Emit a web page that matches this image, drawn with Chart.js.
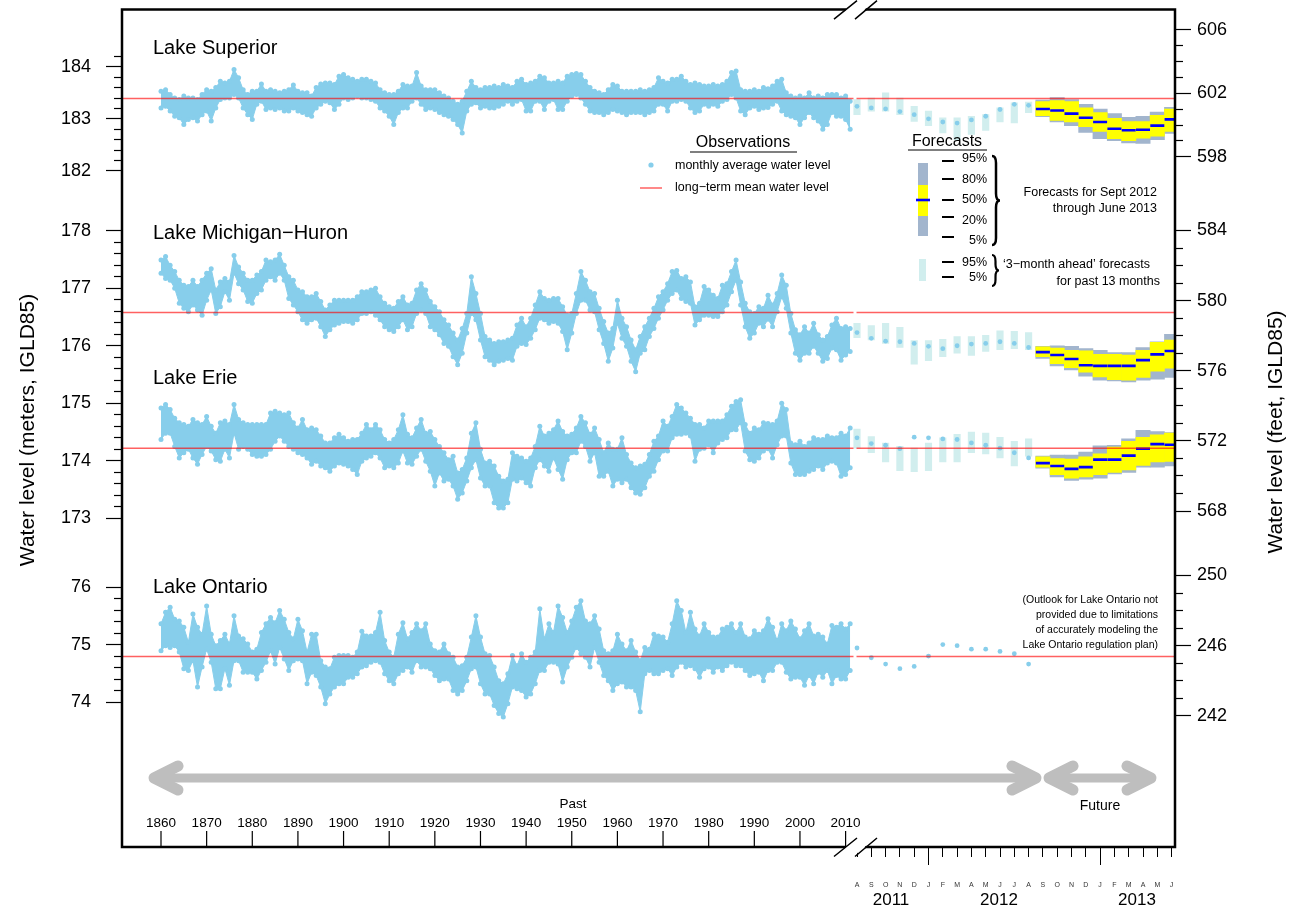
<!DOCTYPE html>
<html>
<head>
<meta charset="utf-8">
<title>Great Lakes water levels</title>
<script src="https://cdn.jsdelivr.net/npm/chart.js@4.4.1/dist/chart.umd.min.js"></script>
<style>
  html, body { margin: 0; padding: 0; background: #fff; }
  #wrap { width: 1300px; height: 912px; position: relative; }
</style>
</head>
<body>
<div id="wrap"><canvas id="chart"></canvas></div>
<script>
// ---------------------------------------------------------------
// Data (meters, IGLD85)
// ---------------------------------------------------------------
const YEARS = Array.from({ length: 152 }, (_, i) => 1860 + i); // 1860..2011

// yearly envelope (high / low of the monthly averages)
const SUP_HI = [
  183.53, 183.56, 183.47, 183.40, 183.37, 183.44, 183.40, 183.40, 183.37, 183.47,
  183.56, 183.53, 183.60, 183.72, 183.69, 183.72, 183.95, 183.79, 183.56, 183.47,
  183.53, 183.53, 183.67, 183.53, 183.56, 183.53, 183.50, 183.53, 183.56, 183.65,
  183.53, 183.50, 183.50, 183.44, 183.60, 183.67, 183.69, 183.69, 183.66, 183.82,
  183.85, 183.79, 183.76, 183.72, 183.76, 183.76, 183.72, 183.69, 183.56, 183.50,
  183.47, 183.47, 183.53, 183.66, 183.63, 183.63, 183.89, 183.63, 183.56, 183.56,
  183.56, 183.50, 183.44, 183.40, 183.34, 183.28, 183.34, 183.53, 183.72, 183.60,
  183.56, 183.60, 183.60, 183.63, 183.60, 183.66, 183.63, 183.60, 183.72, 183.76,
  183.66, 183.69, 183.72, 183.82, 183.79, 183.69, 183.69, 183.72, 183.69, 183.82,
  183.85, 183.87, 183.85, 183.72, 183.60, 183.53, 183.50, 183.47, 183.56, 183.66,
  183.63, 183.53, 183.53, 183.53, 183.53, 183.56, 183.53, 183.56, 183.60, 183.79,
  183.72, 183.69, 183.76, 183.76, 183.82, 183.72, 183.66, 183.69, 183.66, 183.63,
  183.63, 183.66, 183.63, 183.66, 183.72, 183.89, 183.92, 183.56, 183.53, 183.53,
  183.56, 183.53, 183.60, 183.58, 183.63, 183.72, 183.76, 183.50, 183.44, 183.40,
  183.44, 183.40, 183.50, 183.40, 183.44, 183.40, 183.47, 183.47, 183.47, 183.40,
  183.44, 183.34
];
const SUP_LO = [
  183.21, 183.24, 183.15, 183.05, 183.02, 182.89, 182.99, 183.02, 182.96, 183.08,
  183.15, 182.96, 183.21, 183.37, 183.40, 183.40, 183.47, 183.40, 183.21, 183.08,
  182.99, 183.28, 183.34, 183.18, 183.21, 183.18, 183.21, 183.15, 183.15, 183.21,
  183.15, 183.12, 183.08, 183.05, 183.21, 183.28, 183.34, 183.31, 183.18, 183.28,
  183.40, 183.37, 183.40, 183.44, 183.40, 183.40, 183.37, 183.34, 183.21, 183.15,
  183.05, 182.89, 183.12, 183.21, 183.21, 183.34, 183.40, 183.28, 183.18, 183.21,
  183.18, 183.12, 183.08, 183.05, 182.99, 182.89, 182.73, 183.15, 183.28, 183.31,
  183.21, 183.24, 183.21, 183.21, 183.24, 183.28, 183.34, 183.28, 183.34, 183.37,
  183.15, 183.15, 183.34, 183.34, 183.18, 183.34, 183.37, 183.18, 183.18, 183.34,
  183.44, 183.47, 183.40, 183.28, 183.15, 183.12, 183.12, 183.08, 183.12, 183.18,
  183.15, 183.12, 183.08, 183.12, 183.12, 183.12, 183.08, 183.12, 183.15, 183.28,
  183.28, 183.15, 183.34, 183.34, 183.37, 183.34, 183.21, 183.12, 183.15, 183.28,
  183.24, 183.28, 183.24, 183.34, 183.37, 183.47, 183.40, 183.15, 183.08, 183.21,
  183.24, 183.18, 183.21, 183.22, 183.28, 183.34, 183.15, 183.08, 183.05, 183.02,
  182.89, 183.02, 183.12, 183.02, 182.96, 182.80, 182.89, 183.12, 183.05, 183.05,
  182.99, 182.80
];
const MH_HI = [
  177.49, 177.55, 177.40, 177.29, 177.14, 177.05, 177.03, 177.14, 177.03, 177.14,
  177.26, 177.34, 176.97, 177.11, 177.17, 177.11, 177.57, 177.37, 177.26, 177.14,
  177.14, 177.23, 177.29, 177.49, 177.46, 177.49, 177.59, 177.40, 177.20, 177.14,
  176.97, 176.94, 176.85, 176.85, 176.91, 176.77, 176.62, 176.71, 176.79, 176.79,
  176.79, 176.79, 176.79, 176.85, 176.94, 176.94, 176.97, 177.00, 176.85, 176.74,
  176.68, 176.65, 176.77, 176.85, 176.71, 176.74, 176.97, 177.08, 176.97, 176.77,
  176.68, 176.59, 176.45, 176.36, 176.22, 176.10, 176.30, 176.56, 177.20, 176.91,
  176.56, 176.16, 176.10, 176.04, 176.07, 176.07, 176.10, 176.13, 176.36, 176.48,
  176.33, 176.48, 176.71, 176.94, 176.82, 176.79, 176.82, 176.82, 176.68, 176.53,
  176.56, 176.91, 177.29, 177.14, 176.94, 176.91, 176.65, 176.42, 176.22, 176.30,
  176.79, 176.48, 176.33, 176.10, 175.93, 176.16, 176.33, 176.48, 176.65, 176.85,
  176.94, 177.08, 177.29, 177.31, 177.17, 177.20, 177.11, 176.68, 176.74, 177.03,
  176.97, 176.88, 176.82, 177.05, 177.08, 177.29, 177.49, 177.11, 176.74, 176.59,
  176.56, 176.68, 176.65, 176.88, 176.71, 176.91, 177.23, 177.05, 176.56, 176.28,
  176.19, 176.33, 176.22, 176.39, 176.19, 176.10, 176.16, 176.36, 176.48, 176.30,
  176.33, 176.30
];
const MH_LO = [
  177.26, 177.17, 177.14, 177.00, 176.74, 176.65, 176.59, 176.71, 176.62, 176.53,
  176.79, 176.97, 176.56, 176.68, 176.94, 176.79, 177.26, 177.08, 176.97, 176.77,
  176.74, 176.91, 176.97, 177.14, 177.20, 177.14, 177.26, 177.14, 176.82, 176.71,
  176.59, 176.45, 176.39, 176.45, 176.48, 176.33, 176.16, 176.28, 176.36, 176.39,
  176.42, 176.42, 176.39, 176.45, 176.56, 176.56, 176.59, 176.53, 176.45, 176.33,
  176.28, 176.25, 176.33, 176.45, 176.28, 176.33, 176.56, 176.62, 176.56, 176.33,
  176.28, 176.19, 176.04, 175.99, 175.81, 175.67, 175.87, 176.22, 176.56, 176.45,
  176.10, 175.81, 175.75, 175.67, 175.73, 175.75, 175.78, 175.75, 175.99, 176.04,
  176.02, 176.13, 176.28, 176.48, 176.45, 176.39, 176.42, 176.39, 176.25, 175.93,
  176.22, 176.56, 176.79, 176.79, 176.62, 176.59, 176.28, 176.04, 175.73, 175.96,
  176.39, 176.13, 175.99, 175.73, 175.55, 175.87, 175.93, 176.16, 176.30, 176.48,
  176.62, 176.79, 176.91, 176.97, 176.82, 176.77, 176.74, 176.36, 176.45, 176.53,
  176.53, 176.51, 176.51, 176.59, 176.71, 176.94, 177.14, 176.71, 176.33, 176.13,
  176.22, 176.39, 176.33, 176.46, 176.33, 176.59, 176.85, 176.65, 176.22, 175.87,
  175.75, 175.87, 175.87, 175.99, 175.87, 175.73, 175.78, 175.96, 175.93, 175.75,
  175.84, 175.90
];
const ERIE_HI = [
  174.92, 174.98, 174.89, 174.74, 174.66, 174.63, 174.60, 174.72, 174.66, 174.63,
  174.77, 174.60, 174.48, 174.66, 174.69, 174.63, 174.98, 174.72, 174.66, 174.63,
  174.63, 174.63, 174.63, 174.63, 174.83, 174.86, 174.83, 174.80, 174.83, 174.66,
  174.57, 174.72, 174.54, 174.57, 174.54, 174.43, 174.31, 174.31, 174.40, 174.46,
  174.40, 174.34, 174.37, 174.37, 174.48, 174.63, 174.54, 174.63, 174.54, 174.37,
  174.31, 174.37, 174.54, 174.80, 174.46, 174.40, 174.57, 174.72, 174.48, 174.51,
  174.37, 174.25, 174.14, 174.02, 174.08, 173.79, 173.85, 174.05, 174.48, 174.66,
  174.20, 173.96, 173.99, 173.91, 173.73, 173.65, 173.68, 174.14, 174.08, 174.05,
  173.99, 174.05, 174.25, 174.60, 174.43, 174.48, 174.54, 174.69, 174.51, 174.43,
  174.46, 174.57, 174.77, 174.66, 174.46, 174.57, 174.37, 174.14, 174.31, 174.20,
  174.20, 174.40, 174.11, 173.96, 173.88, 173.91, 173.94, 174.11, 174.34, 174.43,
  174.69, 174.60, 174.77, 174.98, 174.92, 174.83, 174.74, 174.63, 174.63, 174.57,
  174.69, 174.69, 174.69, 174.69, 174.80, 174.95, 175.03, 175.06, 174.63, 174.48,
  174.57, 174.54, 174.66, 174.65, 174.63, 174.69, 175.00, 174.89, 174.31, 174.28,
  174.34, 174.25, 174.31, 174.40, 174.37, 174.37, 174.43, 174.40, 174.40, 174.48,
  174.43, 174.57
];
const ERIE_LO = [
  174.37, 174.48, 174.48, 174.25, 174.05, 174.14, 174.20, 174.05, 173.94, 174.11,
  174.25, 174.17, 174.02, 173.99, 174.20, 174.05, 174.48, 174.20, 174.25, 174.20,
  174.11, 174.08, 174.08, 174.11, 174.20, 174.34, 174.43, 174.34, 174.25, 174.20,
  174.14, 174.11, 174.05, 173.94, 173.99, 173.91, 173.88, 173.82, 173.91, 173.96,
  173.94, 173.91, 173.85, 173.76, 173.99, 174.05, 174.08, 174.14, 174.05, 173.88,
  173.91, 173.88, 173.96, 174.17, 173.96, 173.94, 174.08, 174.20, 173.99, 173.82,
  173.56, 173.79, 173.65, 173.68, 173.56, 173.33, 173.44, 173.65, 173.88, 174.02,
  173.70, 173.56, 173.56, 173.27, 173.18, 173.18, 173.27, 173.68, 173.65, 173.70,
  173.62, 173.56, 173.88, 174.02, 173.91, 173.82, 174.05, 173.85, 173.68, 174.02,
  174.14, 174.14, 174.34, 174.25, 173.99, 174.14, 173.73, 173.73, 173.82, 173.56,
  173.68, 173.62, 173.68, 173.53, 173.44, 173.42, 173.53, 173.73, 173.82, 174.02,
  174.17, 174.17, 174.40, 174.46, 174.46, 174.48, 174.43, 173.99, 174.20, 174.22,
  174.28, 174.14, 174.31, 174.37, 174.40, 174.54, 174.54, 174.66, 174.17, 174.02,
  173.99, 174.05, 174.17, 174.21, 174.05, 174.28, 174.43, 174.43, 173.96, 173.76,
  173.76, 173.76, 173.82, 173.85, 173.91, 173.85, 173.96, 173.99, 173.96, 173.73,
  173.76, 173.88
];
const ONT_HI = [
  75.36, 75.56, 75.65, 75.44, 75.41, 75.30, 75.04, 75.53, 75.30, 75.18,
  75.67, 75.18, 74.98, 75.07, 75.18, 75.01, 75.50, 75.15, 75.10, 75.01,
  74.87, 74.92, 75.21, 75.36, 75.47, 75.38, 75.59, 75.44, 75.21, 75.10,
  75.44, 75.24, 74.87, 75.18, 75.18, 74.72, 74.61, 74.58, 74.78, 74.81,
  74.81, 74.81, 74.78, 74.87, 75.23, 75.15, 75.15, 75.21, 75.56, 75.07,
  74.87, 74.78, 75.18, 75.38, 75.10, 75.21, 75.36, 75.24, 75.36, 75.01,
  74.89, 74.87, 75.01, 74.84, 74.78, 74.61, 74.63, 74.78, 75.13, 75.50,
  75.13, 74.84, 74.81, 74.61, 74.37, 74.32, 74.49, 74.81, 74.63, 74.84,
  74.69, 74.78, 74.87, 75.62, 75.10, 75.36, 75.21, 75.67, 75.47, 75.21,
  75.41, 75.65, 75.76, 75.41, 75.36, 75.50, 75.27, 74.89, 74.84, 74.89,
  75.18, 75.01, 74.89, 75.07, 74.87, 74.72, 74.95, 74.92, 75.18, 75.15,
  75.13, 75.04, 75.36, 75.76, 75.59, 75.21, 75.56, 75.27, 75.15, 75.36,
  75.21, 75.13, 75.13, 75.27, 75.30, 75.36, 75.21, 75.36, 75.13, 75.10,
  75.24, 75.18, 75.24, 75.45, 75.30, 75.07, 75.36, 75.24, 75.41, 75.27,
  75.10, 75.24, 75.36, 75.15, 75.18, 75.13, 75.01, 75.33, 75.30, 75.36,
  75.27, 75.36
];
const ONT_LO = [
  74.89, 74.98, 74.95, 74.98, 74.87, 74.58, 74.55, 74.72, 74.26, 74.61,
  74.92, 74.69, 74.23, 74.23, 74.58, 74.29, 74.72, 74.72, 74.52, 74.52,
  74.52, 74.40, 74.55, 74.69, 74.89, 74.66, 74.95, 74.75, 74.55, 74.72,
  74.75, 74.72, 74.32, 74.52, 74.46, 74.26, 73.97, 74.14, 74.26, 74.32,
  74.32, 74.43, 74.43, 74.49, 74.61, 74.63, 74.69, 74.72, 74.69, 74.49,
  74.37, 74.32, 74.49, 74.55, 74.61, 74.52, 74.72, 74.61, 74.61, 74.58,
  74.46, 74.37, 74.40, 74.40, 74.20, 74.14, 74.20, 74.37, 74.58, 74.61,
  74.32, 74.14, 74.14, 73.94, 73.80, 73.74, 73.97, 74.26, 74.23, 74.20,
  74.09, 74.14, 74.32, 74.55, 74.55, 74.69, 74.69, 74.66, 74.35, 74.61,
  74.78, 74.95, 74.84, 74.78, 74.61, 74.95, 74.69, 74.46, 74.37, 74.20,
  74.32, 74.35, 74.26, 74.26, 74.20, 73.83, 74.49, 74.55, 74.49, 74.49,
  74.55, 74.58, 74.46, 74.61, 74.69, 74.61, 74.63, 74.58, 74.43, 74.58,
  74.61, 74.52, 74.61, 74.55, 74.63, 74.69, 74.63, 74.63, 74.55, 74.46,
  74.49, 74.52, 74.37, 74.55, 74.55, 74.69, 74.69, 74.52, 74.40, 74.43,
  74.43, 74.29, 74.46, 74.32, 74.52, 74.43, 74.55, 74.32, 74.46, 74.40,
  74.40, 74.55
];

// long-term means
const SUP_MEAN = 183.39;
const MH_MEAN = 176.58;
const ERIE_MEAN = 174.22;
const ONT_MEAN = 74.79;

// monthly axis: Aug 2011 .. Jun 2013
const MONTH_LETTERS = ['A', 'S', 'O', 'N', 'D', 'J', 'F', 'M', 'A', 'M', 'J', 'J', 'A',
                       'S', 'O', 'N', 'D', 'J', 'F', 'M', 'A', 'M', 'J'];
const JAN_MONTHS = [5, 17];
const MONTH_YEAR_LABELS = ['2011', '2012', '2013'];

// observed monthly levels Aug 2011 .. Aug 2012
const SUP_MONTHLY = [183.24, 183.21, 183.19, 183.14, 183.08, 183.00, 182.94, 182.92, 182.98, 183.05, 183.18, 183.28, 183.26];
const MH_MONTHLY = [176.23, 176.13, 176.08, 176.07, 176.04, 175.99, 175.95, 176.00, 176.03, 176.04, 176.07, 176.04, 175.97];
const ERIE_MONTHLY = [174.40, 174.30, 174.27, 174.21, 174.41, 174.40, 174.38, 174.37, 174.31, 174.27, 174.22, 174.14, 174.05];
const ONT_MONTHLY = [74.94, 74.77, 74.66, 74.58, 74.62, 74.80, 75.00, 74.98, 74.92, 74.92, 74.88, 74.84, 74.66];

// '3-month ahead' forecast ranges (5% / 95%) for the same 13 months
const SUP_AHEAD_LO = [183.08, 183.15, 183.15, 183.08, 182.95, 182.87, 182.73, 182.60, 182.70, 182.78, 182.94, 182.92, 183.12];
const SUP_AHEAD_HI = [183.37, 183.40, 183.50, 183.40, 183.24, 183.15, 183.02, 183.02, 183.05, 183.08, 183.21, 183.31, 183.32];
const MH_AHEAD_LO = [176.14, 176.10, 176.04, 175.97, 175.68, 175.74, 175.81, 175.87, 175.83, 175.90, 175.93, 175.95, 175.93];
const MH_AHEAD_HI = [176.39, 176.35, 176.39, 176.32, 176.09, 176.09, 176.11, 176.16, 176.16, 176.18, 176.26, 176.25, 176.23];
const ERIE_AHEAD_LO = [174.22, 174.14, 173.98, 173.83, 173.81, 173.83, 173.98, 173.98, 174.14, 174.12, 174.05, 173.91, 174.08];
const ERIE_AHEAD_HI = [174.55, 174.42, 174.31, 174.25, 174.22, 174.31, 174.40, 174.46, 174.50, 174.48, 174.41, 174.34, 174.38];

// forecasts Sep 2012 .. Jun 2013 (percentiles)
const SUP_F05 = [183.04, 182.94, 182.87, 182.74, 182.62, 182.58, 182.54, 182.53, 182.60, 182.72];
const SUP_F20 = [183.06, 182.97, 182.94, 182.85, 182.76, 182.62, 182.58, 182.63, 182.67, 182.76];
const SUP_F50 = [183.19, 183.16, 183.10, 183.02, 182.94, 182.81, 182.78, 182.79, 182.87, 182.99];
const SUP_F80 = [183.33, 183.35, 183.33, 183.21, 183.12, 183.01, 182.95, 182.95, 183.07, 183.19];
const SUP_F95 = [183.36, 183.41, 183.37, 183.28, 183.19, 183.10, 183.03, 183.05, 183.13, 183.22];
const MH_F05 = [175.78, 175.65, 175.58, 175.47, 175.40, 175.39, 175.37, 175.40, 175.42, 175.45];
const MH_F20 = [175.81, 175.69, 175.62, 175.54, 175.46, 175.41, 175.40, 175.45, 175.56, 175.61];
const MH_F50 = [175.89, 175.84, 175.77, 175.66, 175.65, 175.65, 175.65, 175.75, 175.85, 175.91];
const MH_F80 = [175.98, 175.96, 175.92, 175.91, 175.85, 175.85, 175.84, 175.92, 176.06, 176.10];
const MH_F95 = [175.99, 176.00, 175.99, 175.95, 175.92, 175.88, 175.88, 175.97, 176.07, 176.20];
const ERIE_F05 = [173.87, 173.72, 173.66, 173.68, 173.70, 173.77, 173.80, 173.89, 173.89, 173.91];
const ERIE_F20 = [173.89, 173.76, 173.70, 173.72, 173.76, 173.80, 173.84, 173.92, 173.98, 173.99];
const ERIE_F50 = [173.96, 173.91, 173.86, 173.89, 174.02, 174.02, 174.09, 174.21, 174.29, 174.28];
const ERIE_F80 = [174.07, 174.04, 174.03, 174.07, 174.12, 174.24, 174.34, 174.41, 174.45, 174.48];
const ERIE_F95 = [174.08, 174.10, 174.10, 174.15, 174.26, 174.27, 174.38, 174.53, 174.51, 174.49];

// axis tick labels
const YEAR_TICKS = [1860, 1870, 1880, 1890, 1900, 1910, 1920, 1930, 1940, 1950, 1960, 1970, 1980, 1990, 2000, 2010];
const SUP_M_TICKS = [182, 183, 184];
const MHE_M_TICKS = [173, 174, 175, 176, 177, 178];
const ONT_M_TICKS = [74, 75, 76];
const SUP_FT_TICKS = [598, 602, 606];
const MHE_FT_TICKS = [568, 572, 576, 580, 584];
const ONT_FT_TICKS = [242, 246, 250];

// ---------------------------------------------------------------
// Layout (pixels) and the broken-axis mapping
// ---------------------------------------------------------------
const FONT = '"Liberation Sans", Arial, Helvetica, sans-serif';
const OBS = '#87ceeb';
const AHEAD = '#d1eeee';
const OUTER = '#a2b5cd';
const INNER = '#ffff00';
const MEDIAN = '#0000ff';
const MEANLINE = 'rgba(255, 0, 0, 0.62)';
const ARROW = '#bebebe';

const PLOT = { left: 122, right: 1175, top: 7, bottom: 847 };
const YEAR0_PX = 161, PX_PER_YEAR = 4.564;
const MONTH0_PX = 857, PX_PER_MONTH = 14.3;
const pxToX = (px) => 1860 + (px - YEAR0_PX) / PX_PER_YEAR;
const monthX = (i) => pxToX(MONTH0_PX + i * PX_PER_MONTH);
const X_MIN = pxToX(PLOT.left), X_MAX = pxToX(PLOT.right);

function yRange(anchorValue, anchorPx, pxPerUnit) {
  return {
    min: anchorValue - (PLOT.bottom - anchorPx) / pxPerUnit,
    max: anchorValue + (anchorPx - PLOT.top) / pxPerUnit,
  };
}
const FT = 3.28084;
const SUP_R = yRange(183.49, 91, 52.25);
const MHE_R = yRange(175.565, 369.3, 57.7);
const ONT_R = yRange(74.981, 645, 57.7);
const toFt = (r) => ({ min: r.min * FT, max: r.max * FT });

function minorTicks(from, to, step, majors) {
  const out = [];
  const n = Math.round((to - from) / step);
  for (let k = 0; k <= n; k++) {
    const v = +(from + k * step).toFixed(3);
    if (!majors.some((m) => Math.abs(m - v) < 1e-6)) out.push(v);
  }
  return out;
}

// axes take no layout room; the page margins hold them
function yAxis(position, r, values, len, labelled) {
  return {
    type: 'linear', position, min: r.min, max: r.max, bounds: 'data',
    afterBuildTicks: (s) => { s.ticks = values.map((v) => ({ value: v })); },
    afterFit: (s) => { s.width = 0; s.paddingTop = 0; s.paddingBottom = 0; s.paddingLeft = 0; s.paddingRight = 0; },
    border: { display: false },
    grid: { drawOnChartArea: false, drawTicks: true, tickLength: len, tickColor: '#000', tickWidth: 1.2 },
    ticks: {
      display: labelled, autoSkip: false, color: '#000',
      padding: position === 'left' ? 15 : 6,
      font: { family: FONT, size: 18 },
      callback: (v) => String(v),
    },
  };
}

function xAxis(values, labels, len, pad, size) {
  return {
    type: 'linear', position: 'bottom', min: X_MIN, max: X_MAX, bounds: 'data', offset: false,
    afterBuildTicks: (s) => { s.ticks = values.map((v) => ({ value: v })); },
    afterFit: (s) => { s.height = 0; s.paddingLeft = 0; s.paddingRight = 0; s.paddingTop = 0; s.paddingBottom = 0; },
    border: { display: false },
    grid: { drawOnChartArea: false, drawTicks: len > 0, tickLength: len, tickColor: '#000', tickWidth: 1 },
    ticks: {
      display: !!labels, autoSkip: false, maxRotation: 0, minRotation: 0, padding: pad,
      color: size < 10 ? '#333' : '#000', font: { family: FONT, size },
      callback: (v, i) => (labels ? labels[i] : ''),
    },
  };
}

// once laid out, widen the axis boxes into the margins so labels are not clipped
const axisBoxes = {
  id: 'axisBoxes',
  afterLayout(chart) {
    for (const s of Object.values(chart.scales)) {
      if (!s.options.display) continue;
      const pos = s.options.position;
      if (pos === 'left') { s.left = 0; s.width = s.right; }
      else if (pos === 'right') { s.right = chart.width; s.width = s.right - s.left; }
      else if (pos === 'bottom') { s.bottom = chart.height; s.height = s.bottom - s.top; }
    }
  },
};

// ---------------------------------------------------------------
// Datasets
// ---------------------------------------------------------------
const LAKES = [
  { axis: 'ySup', hi: SUP_HI, lo: SUP_LO, mean: SUP_MEAN, monthly: SUP_MONTHLY,
    ahead: [SUP_AHEAD_LO, SUP_AHEAD_HI], fc: [SUP_F05, SUP_F20, SUP_F50, SUP_F80, SUP_F95] },
  { axis: 'yMhe', hi: MH_HI, lo: MH_LO, mean: MH_MEAN, monthly: MH_MONTHLY,
    ahead: [MH_AHEAD_LO, MH_AHEAD_HI], fc: [MH_F05, MH_F20, MH_F50, MH_F80, MH_F95] },
  { axis: 'yMhe', hi: ERIE_HI, lo: ERIE_LO, mean: ERIE_MEAN, monthly: ERIE_MONTHLY,
    ahead: [ERIE_AHEAD_LO, ERIE_AHEAD_HI], fc: [ERIE_F05, ERIE_F20, ERIE_F50, ERIE_F80, ERIE_F95] },
  { axis: 'yOnt', hi: ONT_HI, lo: ONT_LO, mean: ONT_MEAN, monthly: ONT_MONTHLY },
];

const FC0 = 13; // first forecast month (Sep 2012)
const datasets = [];
for (const lake of LAKES) {
  const base = { xAxisID: 'x', yAxisID: lake.axis };
  // yearly envelope: upper edge filled down to the lower edge
  datasets.push({ ...base, type: 'line', order: 9, fill: '+1', backgroundColor: OBS,
    borderColor: OBS, borderWidth: 1, tension: 0,
    pointRadius: 2.5, pointBorderWidth: 0, pointBackgroundColor: OBS,
    data: YEARS.map((yr, i) => ({ x: yr, y: lake.hi[i] })) });
  datasets.push({ ...base, type: 'line', order: 8, fill: false,
    borderColor: OBS, borderWidth: 1, tension: 0,
    pointRadius: 2.5, pointBorderWidth: 0, pointBackgroundColor: OBS,
    data: YEARS.map((yr, i) => ({ x: yr, y: lake.lo[i] })) });
  if (lake.ahead) {
    datasets.push({ ...base, type: 'bar', order: 7, grouped: false, barThickness: 6.5,
      backgroundColor: AHEAD, borderWidth: 0,
      data: lake.ahead[0].map((lo, i) => ({ x: monthX(i), y: [lo, lake.ahead[1][i]] })) });
  }
  datasets.push({ ...base, type: 'scatter', order: 6, pointRadius: 2.4, pointBorderWidth: 0,
    pointBackgroundColor: OBS,
    data: lake.monthly.map((v, i) => ({ x: monthX(i), y: v })) });
  if (lake.fc) {
    const [p5, p20, p50, p80, p95] = lake.fc;
    datasets.push({ ...base, type: 'bar', order: 5, grouped: false, barThickness: 14.3,
      backgroundColor: OUTER, borderWidth: 0,
      data: p5.map((v, i) => ({ x: monthX(FC0 + i), y: [v, p95[i]] })) });
    datasets.push({ ...base, type: 'bar', order: 4, grouped: false, barThickness: 14.3,
      backgroundColor: INNER, borderWidth: 0,
      data: p20.map((v, i) => ({ x: monthX(FC0 + i), y: [v, p80[i]] })) });
    datasets.push({ ...base, type: 'scatter', order: 3, pointStyle: 'line', pointRadius: 7,
      pointBorderColor: MEDIAN, pointBorderWidth: 2.6,
      data: p50.map((v, i) => ({ x: monthX(FC0 + i), y: v })) });
  }
  datasets.push({ ...base, type: 'line', order: 1, borderColor: MEANLINE, borderWidth: 1.5,
    pointRadius: 0, spanGaps: false, tension: 0, fill: false,
    data: [
      { x: X_MIN, y: lake.mean }, { x: pxToX(853.5), y: lake.mean },
      { x: pxToX(855), y: null },
      { x: pxToX(856.5), y: lake.mean }, { x: X_MAX, y: lake.mean },
    ] });
}

// ---------------------------------------------------------------
// Decorations: frame, breaks, in-plot year axis, titles, legends
// ---------------------------------------------------------------
function label(ctx, str, x, y, size, align) {
  ctx.font = `${size}px ${FONT}`;
  ctx.textAlign = align || 'left';
  ctx.textBaseline = 'middle';
  ctx.fillStyle = '#000';
  ctx.fillText(str, x, y);
}

function brace(ctx, x, top, bottom, w) {
  const mid = (top + bottom) / 2;
  const r = Math.min(7, (bottom - top) / 5);
  const cx = x + w / 2;
  ctx.beginPath();
  ctx.moveTo(x, top);
  ctx.quadraticCurveTo(cx, top, cx, top + r);
  ctx.lineTo(cx, mid - r);
  ctx.quadraticCurveTo(cx, mid, x + w, mid);
  ctx.quadraticCurveTo(cx, mid, cx, mid + r);
  ctx.lineTo(cx, bottom - r);
  ctx.quadraticCurveTo(cx, bottom, x, bottom);
  ctx.stroke();
}

function arrow(ctx, x1, x2, y) {
  ctx.strokeStyle = ARROW;
  ctx.lineCap = 'round';
  ctx.lineJoin = 'round';
  ctx.lineWidth = 9;
  ctx.beginPath();
  ctx.moveTo(x1 + 6, y); ctx.lineTo(x2 - 6, y);
  ctx.stroke();
  ctx.lineWidth = 11;
  ctx.beginPath();
  ctx.moveTo(x1 + 30, y - 12); ctx.lineTo(x1 + 6, y); ctx.lineTo(x1 + 30, y + 12);
  ctx.moveTo(x2 - 30, y - 12); ctx.lineTo(x2 - 6, y); ctx.lineTo(x2 - 30, y + 12);
  ctx.stroke();
}

function breakMark(ctx, y) {
  ctx.fillStyle = '#fff';
  ctx.beginPath();
  ctx.moveTo(836, y + 9); ctx.lineTo(857, y - 9); ctx.lineTo(875, y - 9); ctx.lineTo(854, y + 9);
  ctx.closePath();
  ctx.fill();
  ctx.strokeStyle = '#000';
  ctx.lineWidth = 1.5;
  ctx.beginPath();
  ctx.moveTo(834, y + 9.5); ctx.lineTo(857, y - 9);
  ctx.moveTo(855, y + 9.5); ctx.lineTo(877, y - 9);
  ctx.stroke();
}

const decorations = {
  id: 'decorations',
  afterDraw(chart) {
    const ctx = chart.ctx;
    const { left, right, top, bottom } = chart.chartArea;
    const xs = chart.scales.x;
    ctx.save();

    // in-plot year ticks and labels
    ctx.strokeStyle = '#000';
    ctx.lineWidth = 1.2;
    ctx.beginPath();
    for (const yr of YEAR_TICKS) {
      const px = xs.getPixelForValue(yr);
      ctx.moveTo(px, bottom - 16); ctx.lineTo(px, bottom);
    }
    ctx.stroke();
    for (const yr of YEAR_TICKS) label(ctx, String(yr), xs.getPixelForValue(yr), bottom - 24, 13.5, 'center');

    // frame
    ctx.strokeStyle = '#000';
    ctx.lineWidth = 2.5;
    ctx.lineCap = 'square';
    ctx.beginPath();
    ctx.moveTo(left, top); ctx.lineTo(left, bottom);
    ctx.moveTo(right, top); ctx.lineTo(right, bottom);
    ctx.moveTo(left, top); ctx.lineTo(845, top);
    ctx.moveTo(866, top); ctx.lineTo(right, top);
    ctx.moveTo(left, bottom); ctx.lineTo(845, bottom);
    ctx.moveTo(866, bottom); ctx.lineTo(right, bottom);
    ctx.stroke();
    ctx.lineCap = 'butt';
    breakMark(ctx, top);
    breakMark(ctx, bottom);

    // axis titles
    ctx.save();
    ctx.translate(28, 430); ctx.rotate(-Math.PI / 2);
    label(ctx, 'Water level (meters, IGLD85)', 0, 0, 21, 'center');
    ctx.restore();
    ctx.save();
    ctx.translate(1276, 432); ctx.rotate(-Math.PI / 2);
    label(ctx, 'Water level (feet, IGLD85)', 0, 0, 21, 'center');
    ctx.restore();

    // lake names
    label(ctx, 'Lake Superior', 153, 48, 20);
    label(ctx, 'Lake Michigan\u2212Huron', 153, 233, 20);
    label(ctx, 'Lake Erie', 153, 378, 20);
    label(ctx, 'Lake Ontario', 153, 587, 20);

    // observations legend
    label(ctx, 'Observations', 743, 143, 16, 'center');
    ctx.strokeStyle = '#000'; ctx.lineWidth = 1.2;
    ctx.beginPath(); ctx.moveTo(690, 152); ctx.lineTo(797, 152); ctx.stroke();
    ctx.fillStyle = OBS;
    ctx.beginPath(); ctx.arc(651, 165, 2.6, 0, Math.PI * 2); ctx.fill();
    label(ctx, 'monthly average water level', 675, 166, 12.5);
    ctx.strokeStyle = MEANLINE; ctx.lineWidth = 1.5;
    ctx.beginPath(); ctx.moveTo(640, 188); ctx.lineTo(662, 188); ctx.stroke();
    label(ctx, 'long\u2212term mean water level', 675, 188, 12.5);

    // forecasts legend
    label(ctx, 'Forecasts', 947, 142, 16, 'center');
    ctx.strokeStyle = '#000'; ctx.lineWidth = 1.2;
    ctx.beginPath(); ctx.moveTo(908, 150); ctx.lineTo(987, 150); ctx.stroke();
    ctx.fillStyle = OUTER; ctx.fillRect(918, 163, 10, 73);
    ctx.fillStyle = INNER; ctx.fillRect(918, 185, 10, 31);
    ctx.strokeStyle = MEDIAN; ctx.lineWidth = 2.6;
    ctx.beginPath(); ctx.moveTo(916, 200); ctx.lineTo(930, 200); ctx.stroke();
    ctx.strokeStyle = '#000'; ctx.lineWidth = 2;
    ctx.beginPath();
    for (const y of [161, 179, 200, 217, 237, 262, 277]) { ctx.moveTo(942, y); ctx.lineTo(954, y); }
    ctx.stroke();
    label(ctx, '95%', 987, 159, 12.5, 'right');
    label(ctx, '80%', 987, 180, 12.5, 'right');
    label(ctx, '50%', 987, 200, 12.5, 'right');
    label(ctx, '20%', 987, 221, 12.5, 'right');
    label(ctx, '5%', 987, 241, 12.5, 'right');
    ctx.strokeStyle = '#000'; ctx.lineWidth = 2.5;
    brace(ctx, 992, 156, 245, 8);
    label(ctx, 'Forecasts for Sept 2012', 1157, 193, 12.5, 'right');
    label(ctx, 'through June 2013', 1157, 209, 12.5, 'right');
    ctx.fillStyle = AHEAD; ctx.fillRect(919, 259, 7, 22);
    label(ctx, '95%', 987, 263, 12.5, 'right');
    label(ctx, '5%', 987, 278, 12.5, 'right');
    ctx.strokeStyle = '#000'; ctx.lineWidth = 2.2;
    brace(ctx, 992, 255, 286, 7);
    label(ctx, '\u20183\u2212month ahead\u2019 forecasts', 1003, 265, 12.5);
    label(ctx, 'for past 13 months', 1160, 282, 12.5, 'right');

    // Ontario note
    label(ctx, '(Outlook for Lake Ontario not', 1158, 600, 10.5, 'right');
    label(ctx, 'provided due to limitations', 1158, 615, 10.5, 'right');
    label(ctx, 'of accurately modeling the', 1158, 630, 10.5, 'right');
    label(ctx, 'Lake Ontario regulation plan)', 1158, 645, 10.5, 'right');

    // past / future arrows
    arrow(ctx, 148, 1042, 778);
    arrow(ctx, 1043, 1157, 778);
    label(ctx, 'Past', 573, 804, 13.5, 'center');
    label(ctx, 'Future', 1100, 806, 14, 'center');

    ctx.restore();
  },
};

// ---------------------------------------------------------------
// Chart
// ---------------------------------------------------------------
Chart.defaults.font.family = FONT;

const scales = {
  x: { type: 'linear', display: false, min: X_MIN, max: X_MAX, offset: false, bounds: 'data' },
  ySup: yAxis('left', SUP_R, SUP_M_TICKS, 16, true),
  ySupMinor: yAxis('left', SUP_R, minorTicks(182, 184.2, 0.2, SUP_M_TICKS), 8, false),
  yMhe: yAxis('left', MHE_R, MHE_M_TICKS, 16, true),
  yMheMinor: yAxis('left', MHE_R, minorTicks(173, 178, 0.2, MHE_M_TICKS), 8, false),
  yOnt: yAxis('left', ONT_R, ONT_M_TICKS, 16, true),
  yOntMinor: yAxis('left', ONT_R, minorTicks(74, 76, 0.2, ONT_M_TICKS), 8, false),
  ySupFt: yAxis('right', toFt(SUP_R), SUP_FT_TICKS, 16, true),
  ySupFtMinor: yAxis('right', toFt(SUP_R), minorTicks(598, 606, 1, SUP_FT_TICKS), 8, false),
  yMheFt: yAxis('right', toFt(MHE_R), MHE_FT_TICKS, 16, true),
  yMheFtMinor: yAxis('right', toFt(MHE_R), minorTicks(568, 584, 1, MHE_FT_TICKS), 8, false),
  yOntFt: yAxis('right', toFt(ONT_R), ONT_FT_TICKS, 16, true),
  yOntFtMinor: yAxis('right', toFt(ONT_R), minorTicks(242, 250, 1, ONT_FT_TICKS), 8, false),
  xMonth: xAxis(MONTH_LETTERS.map((_, i) => monthX(i)), MONTH_LETTERS, 10, 24, 7),
  xJan: xAxis(JAN_MONTHS.map((i) => monthX(i)), null, 18, 0, 7),
  xMonthYear: xAxis([891, 999, 1137].map(pxToX), MONTH_YEAR_LABELS, 0, 43, 17),
};

new Chart(document.getElementById('chart'), {
  type: 'scatter',
  data: { datasets },
  options: {
    responsive: true,
    maintainAspectRatio: false,
    animation: false,
    events: [],
    layout: { padding: { left: PLOT.left, right: 1300 - PLOT.right, top: PLOT.top, bottom: 912 - PLOT.bottom } },
    plugins: { legend: { display: false }, tooltip: { enabled: false }, title: { display: false } },
    scales,
  },
  plugins: [axisBoxes, decorations],
});
</script>
</body>
</html>
